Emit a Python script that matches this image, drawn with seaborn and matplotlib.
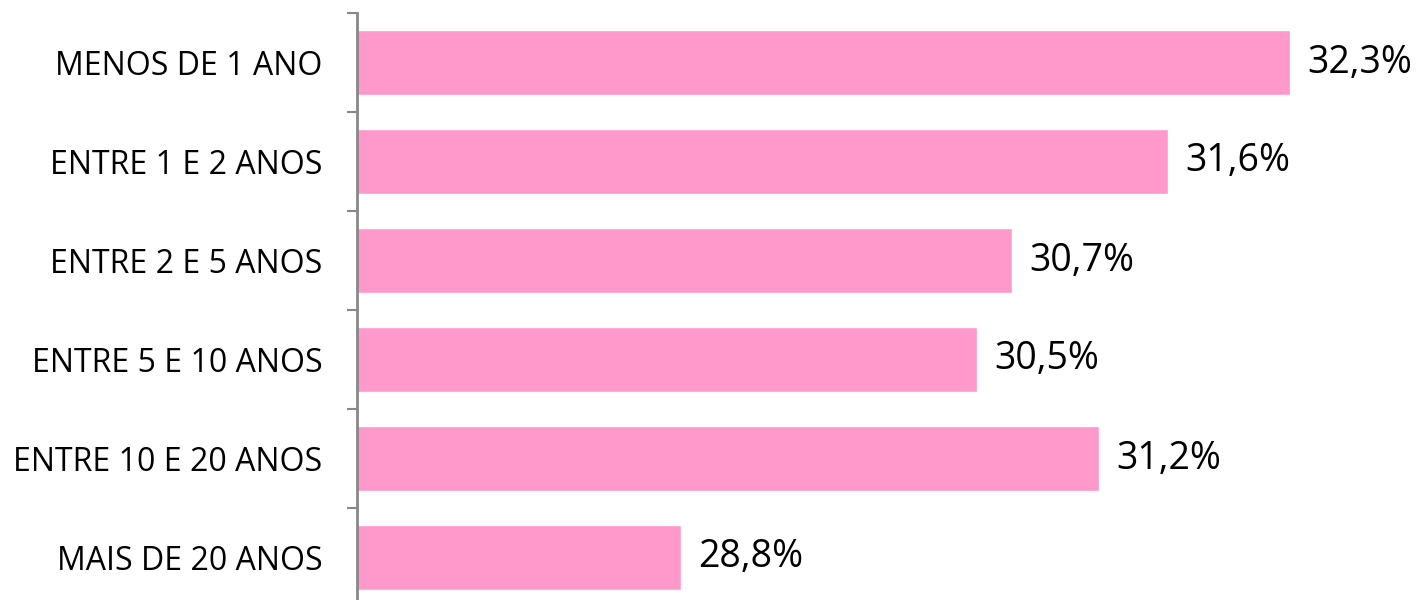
import matplotlib
matplotlib.use('Agg')
import matplotlib.pyplot as plt
import seaborn as sns
import pandas as pd

categorias = ['MENOS DE 1 ANO', 'ENTRE 1 E 2 ANOS', 'ENTRE 2 E 5 ANOS',
              'ENTRE 5 E 10 ANOS', 'ENTRE 10 E 20 ANOS', 'MAIS DE 20 ANOS']
valores = [32.3, 31.6, 30.7, 30.5, 31.2, 28.8]

df = pd.DataFrame({'Tempo': categorias, 'Valor': valores})

sns.set_style('white')
plt.rcParams['font.family'] = ['Open Sans', 'DejaVu Sans']

fig = plt.figure(figsize=(14.19, 6), dpi=100)
ax = fig.add_axes([357 / 1419, 1 - 607 / 600, 1 - 357 / 1419, 594 / 600])

sns.barplot(data=df, y='Tempo', x='Valor', color='#FF99CC', saturation=1,
            width=0.66, ax=ax)

ax.set_xlim(26.94, 33.04)
ax.set_ylim(5.5, -0.5)

# rótulos de valor
for i, v in enumerate(valores):
    ax.text(v + 0.1, i, f'{v:.1f}%'.replace('.', ','), va='center', ha='left',
            fontsize=27, color='black')

ax.set_xlabel('')
ax.set_ylabel('')
ax.set_xticks([])
ax.tick_params(axis='y', which='major', left=False, length=0, pad=25,
               labelsize=23, labelcolor='black')
ax.set_yticks([i + 0.5 for i in range(-1, 6)], minor=True)
ax.tick_params(axis='y', which='minor', left=True, length=7, width=1.5,
               color='#888888')

for s in ['top', 'right', 'bottom']:
    ax.spines[s].set_visible(False)
ax.spines['left'].set_color('#888888')
ax.spines['left'].set_linewidth(2)

fig.savefig('out.png', dpi=100)
